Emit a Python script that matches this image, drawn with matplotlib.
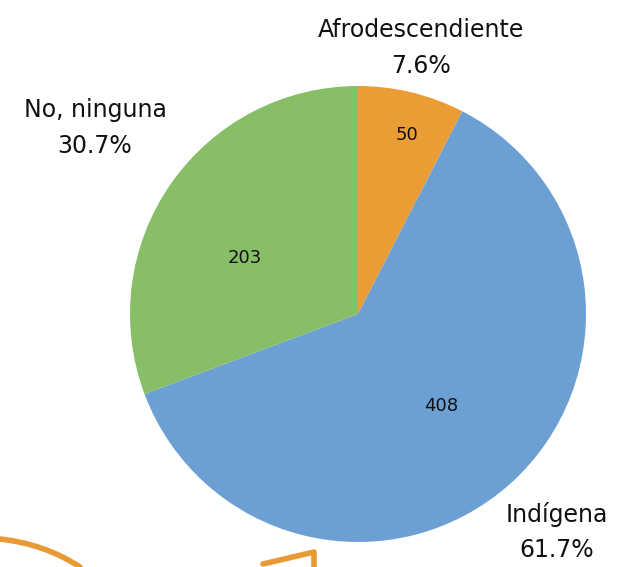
import matplotlib
matplotlib.use("Agg")
import matplotlib.pyplot as plt
from matplotlib.path import Path
from matplotlib.patches import PathPatch

categories = ["Afrodescendiente", "Indígena", "No, ninguna"]
values = [50, 408, 203]
colors = ["#EA9D35", "#6CA0D3", "#87BE67"]

W, H = 622, 567
fig = plt.figure(figsize=(W / 100, H / 100), dpi=100)
ax = fig.add_axes([0, 0, 1, 1])

cx, cy, r = 358, H - 314, 228
ax.pie(values, colors=colors, startangle=90, counterclock=False,
       center=(cx, cy), radius=r, frame=True,
       wedgeprops=dict(linewidth=0))
ax.set_xlim(0, W)
ax.set_ylim(0, H)
ax.set_aspect("equal")
ax.axis("off")

total = sum(values)
pcts = [f"{v / total * 100:.1f}%" for v in values]

font = "DejaVu Sans"
# inner value labels (pixel positions, top-left origin)
inner_pos = [(407, 135), (441, 406), (245, 258)]
for v, (x, y) in zip(values, inner_pos):
    ax.text(x, H - y, str(v), ha="center", va="center", fontsize=13,
            fontfamily=font, color="#111111")

outer_pos = [(421, 48), (557, 532), (95, 128)]
for c, p, (x, y) in zip(categories, pcts, outer_pos):
    ax.text(x, H - y, f"{c}\n{p}", ha="center", va="center", fontsize=17,
            fontfamily=font, color="#111111", linespacing=1.62)

# orange decorative strokes at bottom
orange = "#E89A34"
curve = Path([(0, H - 539), (45, H - 544), (80, H - 567)],
             [Path.MOVETO, Path.CURVE3, Path.CURVE3])
ax.add_patch(PathPatch(curve, fill=False, edgecolor=orange, lw=4,
                       capstyle="round"))
ax.plot([263, 314, 314], [H - 564, H - 552, H - 567], color=orange,
        lw=4, solid_capstyle="round", solid_joinstyle="round")

fig.savefig("out.png", dpi=100)
